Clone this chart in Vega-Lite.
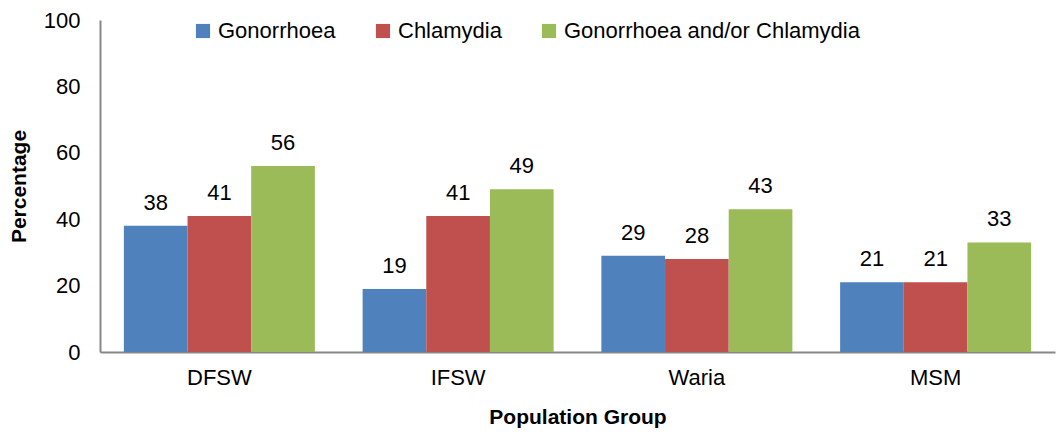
{
  "$schema": "https://vega.github.io/schema/vega-lite/v6.json",
  "autosize": "none",
  "width": 955,
  "height": 332,
  "padding": {"left": 100, "top": 20, "right": 6, "bottom": 82},
  "background": "white",
  "config": {
    "font": "Liberation Sans",
    "view": {"stroke": null}
  },
  "data": {
    "values": [
      {"group": "DFSW", "infection": "Gonorrhoea", "pct": 38},
      {"group": "DFSW", "infection": "Chlamydia", "pct": 41},
      {"group": "DFSW", "infection": "Gonorrhoea and/or Chlamydia", "pct": 56},
      {"group": "IFSW", "infection": "Gonorrhoea", "pct": 19},
      {"group": "IFSW", "infection": "Chlamydia", "pct": 41},
      {"group": "IFSW", "infection": "Gonorrhoea and/or Chlamydia", "pct": 49},
      {"group": "Waria", "infection": "Gonorrhoea", "pct": 29},
      {"group": "Waria", "infection": "Chlamydia", "pct": 28},
      {"group": "Waria", "infection": "Gonorrhoea and/or Chlamydia", "pct": 43},
      {"group": "MSM", "infection": "Gonorrhoea", "pct": 21},
      {"group": "MSM", "infection": "Chlamydia", "pct": 21},
      {"group": "MSM", "infection": "Gonorrhoea and/or Chlamydia", "pct": 33}
    ]
  },
  "encoding": {
    "x": {
      "field": "group", "type": "nominal", "sort": ["DFSW", "IFSW", "Waria", "MSM"],
      "scale": {"paddingInner": 0.2, "paddingOuter": 0.1},
      "axis": {
        "title": "Population Group", "titleFontSize": 21, "titleFontWeight": "bold", "titleColor": "#000",
        "titlePadding": 18,
        "labelAngle": 0, "labelFontSize": 22, "labelColor": "#000", "labelPadding": 15,
        "ticks": false, "domainColor": "#888", "domainWidth": 2
      }
    },
    "xOffset": {"field": "infection", "type": "nominal", "sort": ["Gonorrhoea", "Chlamydia", "Gonorrhoea and/or Chlamydia"]},
    "y": {
      "field": "pct", "type": "quantitative",
      "scale": {"domain": [0, 100]},
      "axis": {
        "title": "Percentage", "titleFontSize": 21, "titleFontWeight": "bold", "titleColor": "#000",
        "titlePadding": 14,
        "values": [0, 20, 40, 60, 80, 100], "grid": false, "ticks": false,
        "labelFontSize": 22, "labelColor": "#000", "labelPadding": 20,
        "domainColor": "#888", "domainWidth": 2
      }
    }
  },
  "layer": [
    {
      "mark": {"type": "bar"},
      "encoding": {
        "color": {
          "field": "infection", "type": "nominal",
          "sort": ["Gonorrhoea", "Chlamydia", "Gonorrhoea and/or Chlamydia"],
          "scale": {"domain": ["Gonorrhoea", "Chlamydia", "Gonorrhoea and/or Chlamydia"], "range": ["#4F81BD", "#C0504D", "#9BBB59"]},
          "legend": {
            "title": null, "orient": "none", "direction": "horizontal",
            "legendX": 92, "legendY": 0,
            "symbolType": "square", "symbolSize": 200, "symbolStrokeWidth": 0,
            "labelFontSize": 22, "labelColor": "#000", "labelOffset": 4, "labelLimit": 500,
            "columnPadding": 36
          }
        }
      }
    },
    {
      "mark": {"type": "text", "baseline": "bottom", "dy": -11, "fontSize": 22, "color": "#000"},
      "encoding": {
        "text": {"field": "pct", "type": "quantitative"}
      }
    }
  ]
}
